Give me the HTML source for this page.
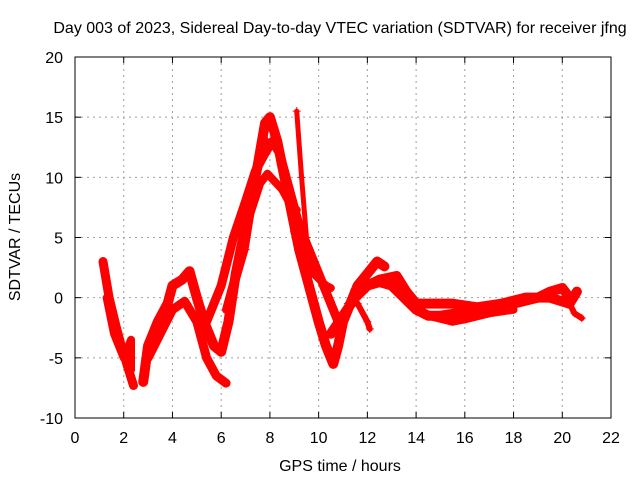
<!DOCTYPE html>
<html><head><meta charset="utf-8"><style>
body{margin:0;background:#fff}
svg{display:block;font-family:"Liberation Sans",sans-serif;font-size:16px}
</style></head><body>
<svg id="chart" width="640" height="480">
<text x="340" y="33" text-anchor="middle">Day 003 of 2023, Sidereal Day-to-day VTEC variation (SDTVAR) for receiver jfng</text>
<text x="340" y="471" text-anchor="middle">GPS time / hours</text>
<text transform="translate(20,237) rotate(-90)" text-anchor="middle">SDTVAR / TECUs</text>
<g id="grid"></g>
<g id="series"></g>
<rect x="75" y="57" width="536" height="361" fill="none" stroke="#000" stroke-width="1"/>
<g id="ticks"></g>
</svg>
<script>
const xTicks=[0,2,4,6,8,10,12,14,16,18,20,22];
const yTicks=[-10,-5,0,5,10,15,20];
const trackA=[[1.15,3],[1.4,0],[1.7,-2.5],[1.9,-4],[2.2,-6],[2.4,-7.3]];
const trackA2=[[1.3,0],[1.6,-3],[2.0,-5],[2.3,-3.5],[2.3,-6]];
const trackB=[[2.8,-7],[3.0,-4],[3.4,-2],[3.8,-0.5],[4.0,1],[4.4,1.5],[4.7,2.2],[5.0,0],[5.3,-2],[5.7,-4],[6.0,-4.5],[6.3,-2],[6.6,2],[7.0,6],[7.3,9],[7.5,11],[7.8,14.5],[8.0,15],[8.3,13],[8.6,10],[8.9,7],[9.2,4],[9.6,1],[10.0,-2],[10.3,-4],[10.6,-5.5],[10.8,-4],[11.0,-2],[11.2,-1],[11.6,1],[12.0,2],[12.4,3],[12.7,2.6]];
const trackC=[[3.0,-5],[3.5,-3],[4.0,-1],[4.5,-0.3],[5.0,-2],[5.4,-5],[5.8,-6.5],[6.2,-7.1]];
const trackD=[[5.2,-3],[5.6,-1],[6.0,1],[6.5,5],[7.0,8],[7.4,10.5],[7.8,12],[8.1,13],[8.4,12],[8.8,9],[9.2,6],[9.6,4],[10.0,2],[10.4,0],[10.8,-2]];
const trackE=[[6.2,-1],[6.6,2],[7.2,7],[7.6,9.5],[7.9,10.3],[8.5,9],[8.9,7.5],[9.1,7.3]];
const trackF=[[6.5,0.5],[7.0,4],[7.4,9],[7.6,12],[7.9,13]];
const trackG=[[9.1,15.5],[9.3,10],[9.5,5]];
const trackH=[[9.0,5.5],[9.4,4],[9.8,2],[10.3,1],[10.5,0.8]];
const trackI=[[10.5,-3],[11.0,-1.5],[11.5,0],[12.0,1],[12.5,1.3],[13.0,1],[13.5,0],[14.0,-1],[14.5,-1.5],[15,-1.5],[16,-1.2],[17,-1],[18,-0.5],[19,0],[19.5,0.5],[20,0.8],[20.3,0]];
const trackJ=[[11.5,0.5],[12.5,1.5],[13.2,1.8],[13.6,0.5],[14,-0.5],[14.5,-0.5],[15.5,-0.5],[16.5,-0.8],[17.5,-0.5],[18.5,0],[19.5,0],[20.3,-0.5],[20.6,0.5]];
const trackK=[[13.5,0],[14.5,-1.5],[15.5,-2],[16,-1.8],[17,-1.3],[18,-1]];
const trackK2=[[20.3,-0.5],[20.5,-1.3],[20.8,-1.7]];
const trackL=[[11.2,-0.5],[11.6,-0.5],[12.0,-2],[12.1,-2.6]];
const tracks=[trackA,trackA2,trackB,trackC,trackD,trackE,trackF,trackG,trackH,trackI,trackJ,trackK,trackK2,trackL];
const widths=[9,8,10,9,9,8,6,5,8,10,10,8,6,6];
const NS="http://www.w3.org/2000/svg";
const X=t=>75+t*(536/22), Y=v=>418-(v+10)*(361/30);
const grid=document.getElementById('grid'),ticks=document.getElementById('ticks'),ser=document.getElementById('series'),svg=document.getElementById('chart');
function mk(tag,attrs,parent){const e=document.createElementNS(NS,tag);for(const k in attrs)e.setAttribute(k,attrs[k]);parent.appendChild(e);return e;}
xTicks.forEach(t=>{const x=X(t);
 if(t>0&&t<22){const g=mk('line',{x1:x,x2:x,y1:57,y2:418,stroke:'#a0a0a0','stroke-dasharray':'2,4'},grid);
 
 }
 mk('line',{x1:x,x2:x,y1:418,y2:412,stroke:'#000'},ticks);mk('line',{x1:x,x2:x,y1:57,y2:63,stroke:'#000'},ticks);
 const l=mk('text',{x:x,y:443,'text-anchor':'middle'},svg);l.textContent=t;
 
 });
yTicks.forEach(v=>{const y=Y(v);
 if(v>-10&&v<20){const g=mk('line',{x1:75,x2:611,y1:y,y2:y,stroke:'#a0a0a0','stroke-dasharray':'2,4'},grid);
 
 }
 mk('line',{x1:75,x2:81,y1:y,y2:y,stroke:'#000'},ticks);mk('line',{x1:611,x2:605,y1:y,y2:y,stroke:'#000'},ticks);
 const l=mk('text',{x:63,y:y+6,'text-anchor':'end'},svg);l.textContent=v;
 
 });
tracks.forEach((tr,i)=>{
 const p=mk('polyline',{points:tr.map(d=>X(d[0])+','+Y(d[1])).join(' '),fill:'none',stroke:'#ff0000','stroke-width':widths[i],'stroke-linejoin':'round','stroke-linecap':'round'},ser);
 
 
 tr.forEach(d=>{const x=X(d[0]),y=Y(d[1]);
  const m=mk('path',{d:`M${x-4},${y}H${x+4}M${x},${y-4}V${y+4}`,stroke:'#ff0000','stroke-width':1},ser);
  
  });
});
</script>
</body></html>
